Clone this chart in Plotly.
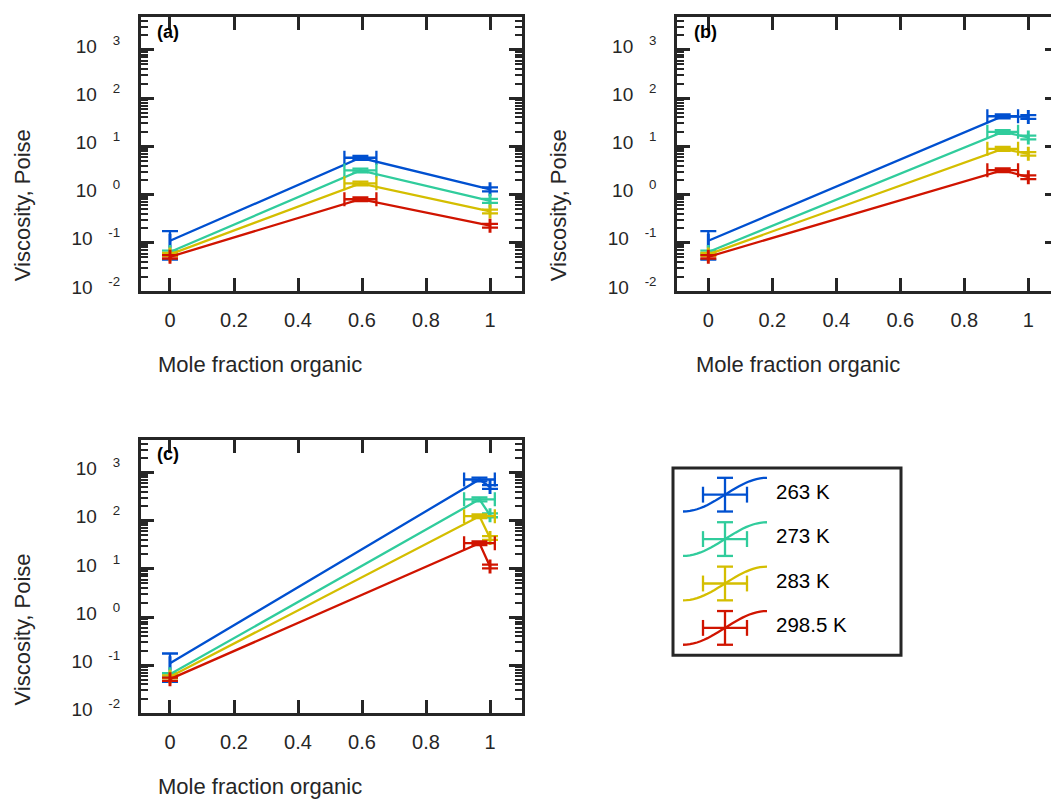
import math
import plotly.graph_objects as go

W, H = 1051, 806
FONT = "Liberation Sans, Arial, sans-serif"
AX = "#262626"

temps = ["263 K", "273 K", "283 K", "298.5 K"]
colors = ["#0050d0", "#30cc9c", "#d4be00", "#d01400"]

# ---------------- data (viscosity in Poise) ----------------
# panel (a)
x_a = [0.0, 0.595, 1.0]
xerr_a = [0.001, 0.05, 0.001]
visc_a = [
    [0.110, 5.79, 1.285],
    [0.0646, 3.16, 0.741],
    [0.0575, 1.71, 0.447],
    [0.0513, 0.80, 0.226],
]
err_a = [
    [0.065, 0.52, 0.12],
    [0.004, 0.28, 0.07],
    [0.004, 0.15, 0.04],
    [0.004, 0.07, 0.02],
]

# panel (b)
x_b = [0.0, 0.92, 1.0]
xerr_b = [0.001, 0.048, 0.001]
visc_b = [
    [0.110, 42.0, 40.6],
    [0.0646, 19.95, 15.3],
    [0.0575, 8.87, 7.0],
    [0.0513, 3.20, 2.29],
]
err_b = [
    [0.065, 3.8, 3.6],
    [0.004, 1.8, 1.4],
    [0.004, 0.8, 0.6],
    [0.004, 0.29, 0.2],
]

# panel (c)
x_c = [0.0, 0.967, 1.0]
xerr_c = [0.001, 0.048, 0.001]
visc_c = [
    [0.110, 718.0, 501.0],
    [0.0646, 278.0, 130.0],
    [0.0575, 124.0, 43.9],
    [0.0513, 34.1, 11.2],
]
err_c = [
    [0.065, 65.0, 45.0],
    [0.004, 25.0, 12.0],
    [0.004, 11.0, 4.0],
    [0.004, 3.0, 1.0],
]

xtickvals = [0, 0.2, 0.4, 0.6, 0.8, 1]
xticktext = ["0", "0.2", "0.4", "0.6", "0.8", "1"]
ytickvals = [0.01, 0.1, 1, 10, 100, 1000]
yexps = ["-2", "-1", "0", "1", "2", "3"]
GAP = "\u00a0\u00a0\u00a0"
yticktext = ["10" + GAP + "<sup>" + e + "</sup>" for e in yexps]
yminorvals = [m * v for v in ytickvals for m in range(2, 10)]

xlabel = "Mole fraction organic"
ylabel = "Viscosity, Poise"
panel_tags = ["(a)", "(b)", "(c)"]


def px(x):
    return x / W


def py(y):
    return 1 - y / H


fig = go.Figure()

panels = [
    ("", x_a, xerr_a, visc_a, err_a),
    ("2", x_b, xerr_b, visc_b, err_b),
    ("3", x_c, xerr_c, visc_c, err_c),
]
for key, xs, xe, vs, es in panels:
    for i in range(4):
        fig.add_trace(go.Scatter(
            x=xs, y=vs[i], mode="lines", name=temps[i], showlegend=False,
            line=dict(color=colors[i], width=2.3),
            error_y=dict(type="data", array=es[i], symmetric=True,
                         color=colors[i], thickness=2.3, width=8),
            error_x=dict(type="data", array=xe, symmetric=True,
                         color=colors[i], thickness=2.3, width=7),
            xaxis="x" + key, yaxis="y" + key,
        ))


def xaxis(d0, d1, rng, anchor):
    return dict(domain=[px(d0), px(d1)], range=rng, anchor=anchor,
                tickmode="array", tickvals=xtickvals, ticktext=xticktext,
                ticks="inside", ticklen=13, tickwidth=3, tickcolor=AX,
                showline=True, linewidth=3, linecolor=AX, mirror="ticks",
                showgrid=False, zeroline=False,
                tickfont=dict(size=20, color=AX, family=FONT),
                ticklabelstandoff=9)


def yaxis(t0, t1, rng, anchor, mirror):
    return dict(type="log", domain=[py(t1), py(t0)], range=rng, anchor=anchor,
                tickmode="array", tickvals=ytickvals, ticktext=yticktext,
                ticks="inside", ticklen=13, tickwidth=3, tickcolor=AX,
                showline=True, linewidth=3, linecolor=AX, mirror=mirror,
                showgrid=False, zeroline=False,
                tickfont=dict(size=19, color=AX, family=FONT),
                ticklabelstandoff=14, ticklabelshift=-4)


def minor_axis(over, anchor, rng, mirror, side="left", vals=None, tlen=7, tw=2):
    return dict(type="log", overlaying=over, anchor=anchor, side=side,
                range=rng, tickmode="array",
                tickvals=vals if vals is not None else yminorvals,
                ticks="inside", ticklen=tlen, tickwidth=tw, tickcolor=AX,
                showticklabels=False, showline=False, showgrid=False,
                zeroline=False, mirror=mirror)


ra = [-2, 3.69]
rc = [-2, 3.673]
fig.update_layout(
    width=W, height=H, margin=dict(l=0, r=0, t=0, b=0),
    paper_bgcolor="white", plot_bgcolor="white",
    font=dict(family=FONT, color=AX),
    showlegend=False,
    xaxis=xaxis(141, 521.7, [-0.0906, 1.099], "y"),
    yaxis=yaxis(16.7, 293.6, ra, "x", "ticks"),
    xaxis2=xaxis(677.3, 1051, [-0.0969, 1.0709], "y2"),
    yaxis2=yaxis(16.7, 293.6, ra, "x2", False),
    xaxis3=xaxis(141, 521.7, [-0.0906, 1.099], "y3"),
    yaxis3=yaxis(444, 719.6, rc, "x3", "ticks"),
    yaxis4=minor_axis("y2", "x2", ra, False, side="right", vals=ytickvals, tlen=6, tw=3),
    yaxis5=minor_axis("y", "x", ra, "ticks"),
    yaxis6=minor_axis("y2", "x2", ra, False),
    yaxis7=minor_axis("y3", "x3", rc, "ticks"),
)
# invisible traces to activate the overlay tick axes
for xa_, ya_ in [("x2", "y4"), ("x", "y5"), ("x2", "y6"), ("x3", "y7")]:
    fig.add_trace(go.Scatter(x=[0.5], y=[1], mode="markers", marker=dict(opacity=0),
                             xaxis=xa_, yaxis=ya_, showlegend=False, hoverinfo="skip"))

annots = []
# axis titles and panel tags
title_pos = [
    (260, 368, 22, 207, 155, 32),
    (798, 368, 558, 207, 692, 32),
    (260, 793, 22, 635, 155, 458),
]
for (tx, ty, yx, yy, gx, gy), tag in zip(title_pos, panel_tags):
    annots.append(dict(x=px(tx), y=py(ty), xref="paper", yref="paper",
                       text=xlabel, showarrow=False, xanchor="center", yanchor="middle",
                       font=dict(size=22, color=AX, family=FONT)))
    annots.append(dict(x=px(yx), y=py(yy), xref="paper", yref="paper",
                       text=ylabel, showarrow=False, textangle=-90,
                       xanchor="center", yanchor="middle",
                       font=dict(size=22, color=AX, family=FONT)))
    annots.append(dict(x=px(gx), y=py(gy), xref="paper", yref="paper",
                       text="<b>" + tag + "</b>", showarrow=False,
                       xanchor="left", yanchor="middle",
                       font=dict(size=18, color="black", family=FONT)))

# ---------------- custom legend ----------------
shapes = []
lx0, ly0, lx1, ly1 = 673, 472, 901, 661
shapes.append(dict(type="rect", xref="paper", yref="paper",
                   x0=px(lx0), x1=px(lx1), y0=py(ly1), y1=py(ly0),
                   line=dict(color=AX, width=3), fillcolor="white", layer="above"))
cx = 725
row0, row_step = 499, 44.8
half_w, half_h = 42, 17
for i, t in enumerate(temps):
    cy = row0 + row_step * i
    c = colors[i]
    pts = []
    n = 24
    for k in range(n + 1):
        u = -1 + 2 * k / n
        xx = cx + half_w * u
        yy = cy - half_h * math.sin(math.pi / 2 * u)
        pts.append((px(xx), py(yy)))
    path = "M " + " L ".join(f"{a:.5f},{b:.5f}" for a, b in pts)
    shapes.append(dict(type="path", path=path, xref="paper", yref="paper",
                       line=dict(color=c, width=2.3), layer="above"))
    segs = [
        (cx, cy - half_h, cx, cy + half_h),
        (cx - 8, cy - half_h, cx + 8, cy - half_h),
        (cx - 8, cy + half_h, cx + 8, cy + half_h),
        (cx - 22, cy, cx + 22, cy),
        (cx - 22, cy - 8, cx - 22, cy + 8),
        (cx + 22, cy - 8, cx + 22, cy + 8),
    ]
    for x0, y0, x1, y1 in segs:
        shapes.append(dict(type="line", xref="paper", yref="paper",
                           x0=px(x0), y0=py(y0), x1=px(x1), y1=py(y1),
                           line=dict(color=c, width=2.3), layer="above"))
    annots.append(dict(x=px(774), y=py(cy - 3.5), xref="paper", yref="paper",
                       text=t, showarrow=False, xanchor="left", yanchor="middle",
                       font=dict(size=20.5, color="black", family=FONT)))

fig.update_layout(annotations=annots, shapes=shapes)
fig.write_html("out.html")
